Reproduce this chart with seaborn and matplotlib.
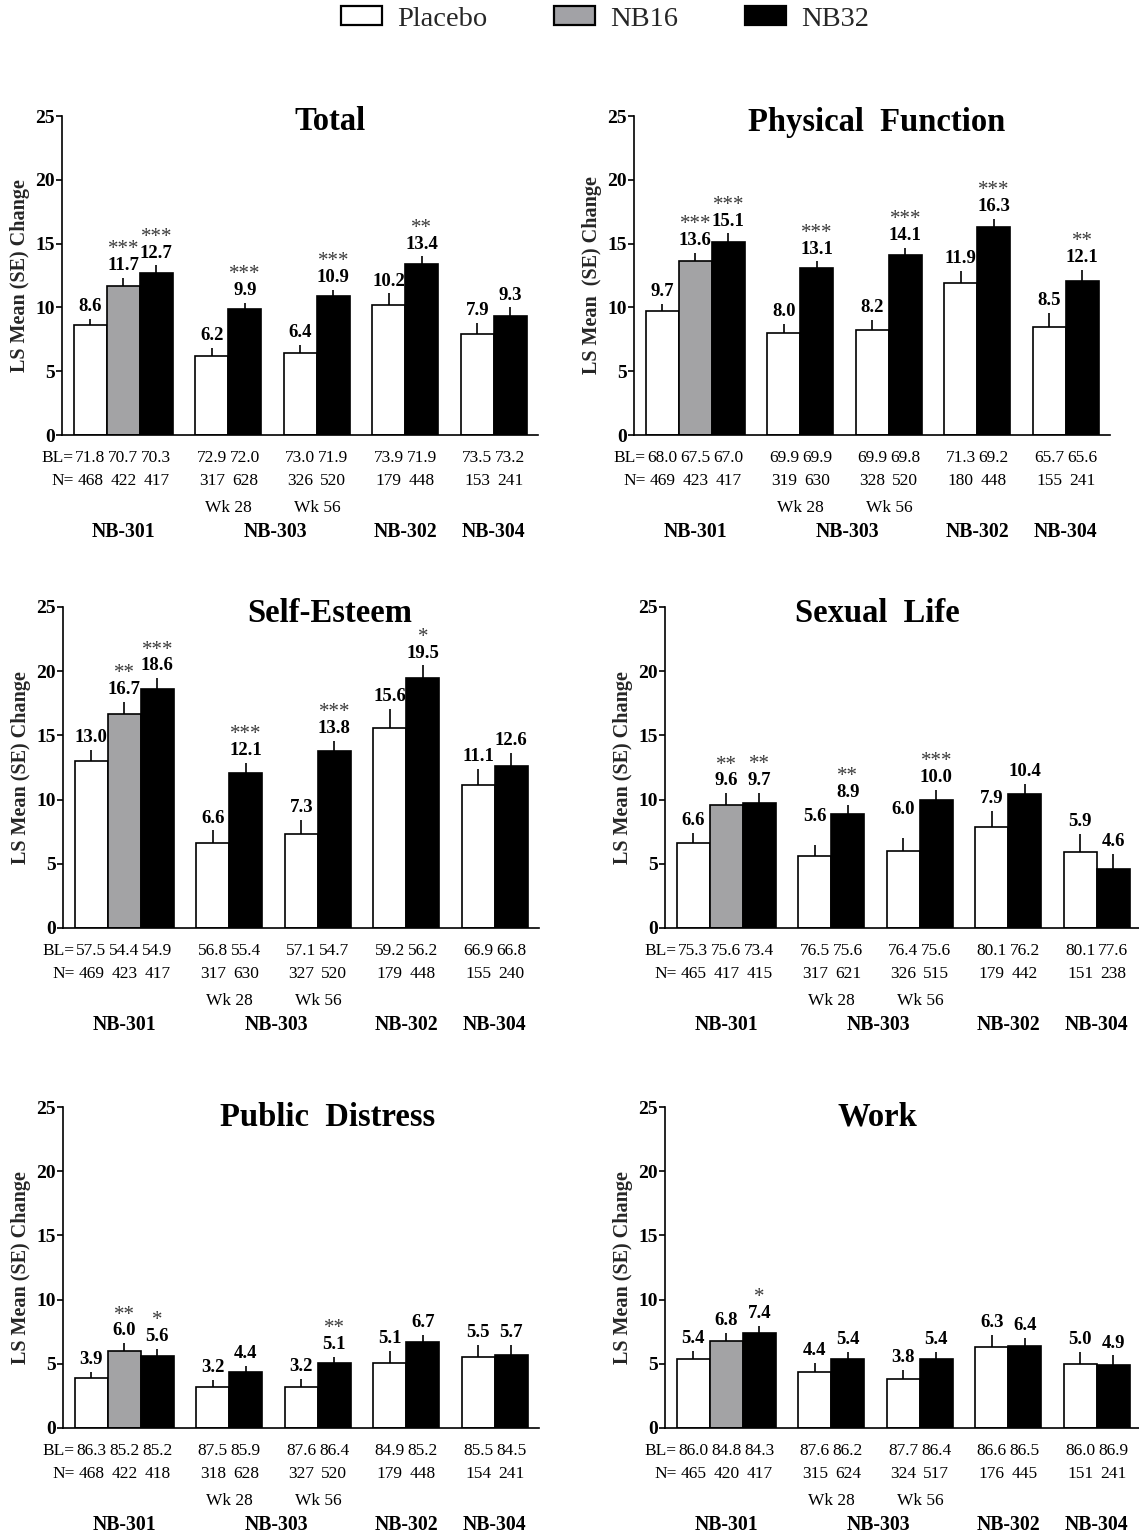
import numpy as np
import pandas as pd
import matplotlib
matplotlib.use("Agg")
import matplotlib.pyplot as plt
import seaborn as sns
from matplotlib.patches import Patch

sns.set_theme(style="ticks")
plt.rcParams['font.family'] = ['Liberation Serif', 'DejaVu Serif']

# ---------------- data ----------------
treatments = ["Placebo", "NB16", "NB32"]
slot_treatment = ["Placebo", "NB16", "NB32", "Placebo", "NB32", "Placebo", "NB32",
                  "Placebo", "NB32", "Placebo", "NB32"]
group_sizes = [3, 2, 2, 2, 2]
studies = ["NB-301", "NB-303", "NB-302", "NB-304"]
weeks = ["Wk 28", "Wk 56"]

titles = ["Total", "Physical  Function", "Self-Esteem", "Sexual  Life",
          "Public  Distress", "Work"]
ylabels = ["LS Mean (SE) Change", "LS Mean  (SE) Change", "LS Mean (SE) Change",
           "LS Mean (SE) Change", "LS Mean (SE) Change", "LS Mean (SE) Change"]

total_mean = [8.6, 11.7, 12.7, 6.2, 9.9, 6.4, 10.9, 10.2, 13.4, 7.9, 9.3]
total_se = [0.5, 0.6, 0.6, 0.6, 0.45, 0.65, 0.5, 0.9, 0.6, 0.9, 0.7]
total_sig = ["", "***", "***", "", "***", "", "***", "", "**", "", ""]
total_bl = ["71.8", "70.7", "70.3", "72.9", "72.0", "73.0", "71.9", "73.9", "71.9", "73.5", "73.2"]
total_n = ["468", "422", "417", "317", "628", "326", "520", "179", "448", "153", "241"]

pf_mean = [9.7, 13.6, 15.1, 8.0, 13.1, 8.2, 14.1, 11.9, 16.3, 8.5, 12.1]
pf_se = [0.6, 0.7, 0.7, 0.7, 0.5, 0.8, 0.55, 0.95, 0.65, 1.1, 0.85]
pf_sig = ["", "***", "***", "", "***", "", "***", "", "***", "", "**"]
pf_bl = ["68.0", "67.5", "67.0", "69.9", "69.9", "69.9", "69.8", "71.3", "69.2", "65.7", "65.6"]
pf_n = ["469", "423", "417", "319", "630", "328", "520", "180", "448", "155", "241"]

se_mean = [13.0, 16.7, 18.6, 6.6, 12.1, 7.3, 13.8, 15.6, 19.5, 11.1, 12.6]
se_se = [0.85, 0.9, 0.85, 1.0, 0.75, 1.15, 0.8, 1.45, 0.95, 1.3, 1.05]
se_sig = ["", "**", "***", "", "***", "", "***", "", "*", "", ""]
se_bl = ["57.5", "54.4", "54.9", "56.8", "55.4", "57.1", "54.7", "59.2", "56.2", "66.9", "66.8"]
se_n = ["469", "423", "417", "317", "630", "327", "520", "179", "448", "155", "240"]

sl_mean = [6.6, 9.6, 9.7, 5.6, 8.9, 6.0, 10.0, 7.9, 10.4, 5.9, 4.6]
sl_se = [0.8, 0.9, 0.85, 0.9, 0.7, 1.0, 0.75, 1.2, 0.8, 1.45, 1.2]
sl_sig = ["", "**", "**", "", "**", "", "***", "", "", "", ""]
sl_bl = ["75.3", "75.6", "73.4", "76.5", "75.6", "76.4", "75.6", "80.1", "76.2", "80.1", "77.6"]
sl_n = ["465", "417", "415", "317", "621", "326", "515", "179", "442", "151", "238"]

pd_mean = [3.9, 6.0, 5.6, 3.2, 4.4, 3.2, 5.1, 5.1, 6.7, 5.5, 5.7]
pd_se = [0.5, 0.6, 0.55, 0.55, 0.45, 0.6, 0.45, 0.9, 0.55, 0.95, 0.75]
pd_sig = ["", "**", "*", "", "", "", "**", "", "", "", ""]
pd_bl = ["86.3", "85.2", "85.2", "87.5", "85.9", "87.6", "86.4", "84.9", "85.2", "85.5", "84.5"]
pd_n = ["468", "422", "418", "318", "628", "327", "520", "179", "448", "154", "241"]

wk_mean = [5.4, 6.8, 7.4, 4.4, 5.4, 3.8, 5.4, 6.3, 6.4, 5.0, 4.9]
wk_se = [0.6, 0.6, 0.55, 0.7, 0.5, 0.7, 0.5, 0.95, 0.6, 0.9, 0.75]
wk_sig = ["", "", "*", "", "", "", "", "", "", "", ""]
wk_bl = ["86.0", "84.8", "84.3", "87.6", "86.2", "87.7", "86.4", "86.6", "86.5", "86.0", "86.9"]
wk_n = ["465", "420", "417", "315", "624", "324", "517", "176", "445", "151", "241"]

means = [total_mean, pf_mean, se_mean, sl_mean, pd_mean, wk_mean]
ses = [total_se, pf_se, se_se, sl_se, pd_se, wk_se]
sigs = [total_sig, pf_sig, se_sig, sl_sig, pd_sig, wk_sig]
bls = [total_bl, pf_bl, se_bl, sl_bl, pd_bl, wk_bl]
ns = [total_n, pf_n, se_n, sl_n, pd_n, wk_n]

# ---------------- layout ----------------
palette = {"Placebo": "white", "NB16": "#a2a2a6", "NB32": "black"}
GAP = 0.68
centers, group_centers = [], []
x = 0.0
for size in group_sizes:
    start = x
    for k in range(size):
        centers.append(x + 0.5)
        x += 1
    group_centers.append((start + x) / 2)
    x += GAP
bar_end = x - GAP
XLIM = (-0.36, bar_end + 0.34)

W, H = 1139, 1535
fig = plt.figure(figsize=(W / 100, H / 100), dpi=100)

# axes rects in pixels: (left, top, bottom)
rects = [(62, 116, 435), (634, 116, 435), (63, 607, 928), (665, 607, 928),
         (63, 1107, 1428), (665, 1107, 1428)]
AXW = 476
title_pos = [(330, 122), (877, 122), (330, 614), (877, 614), (328, 1117), (877, 1117)]
label_lift = {(3, 3): 11, (3, 5): 12}
ROW_FS = 12.5

for i, (lx, ty, by) in enumerate(rects):
    ax = fig.add_axes([lx / W, 1 - by / H, AXW / W, (by - ty) / H])
    df = pd.DataFrame({"pos": centers, "value": means[i], "Treatment": slot_treatment})
    sns.barplot(data=df, x="pos", y="value", hue="Treatment", hue_order=treatments,
                palette=palette, native_scale=True, dodge=False, width=1.0,
                errorbar=None, edgecolor="black", linewidth=1.2, legend=False, ax=ax)
    ax.errorbar(centers, means[i], yerr=[np.zeros(len(centers)), ses[i]], fmt="none",
                ecolor="black", elinewidth=1.2, capsize=0)
    ax.set_xlim(*XLIM)
    ax.set_ylim(0, 25)
    ax.set_yticks(range(0, 26, 5))
    ax.set_xticks([])
    ax.set_xlabel("")
    ax.set_ylabel(ylabels[i], fontsize=14.5, fontweight="bold", labelpad=0)
    ax.yaxis.set_label_coords(-32 / AXW, 0.5)
    sns.despine(ax=ax)
    for s in ["left", "bottom"]:
        ax.spines[s].set_linewidth(1.2)
        ax.spines[s].set_color("black")
    ax.tick_params(axis="y", length=4, width=1.2, pad=1, labelsize=14, colors="black")
    for t in ax.get_yticklabels():
        t.set_fontweight("bold")
    ax.set_facecolor("white")

    for j, c in enumerate(centers):
        top = means[i][j] + ses[i][j]
        lift = label_lift.get((i, j), 0)
        ax.annotate(f"{means[i][j]:.1f}", (c, top), xytext=(0, 5.6 + lift),
                    textcoords="offset points", ha="center", va="baseline",
                    fontsize=13.5, fontweight="bold", color="black")
        if sigs[i][j]:
            ax.annotate(sigs[i][j], (c, top), xytext=(0, 17.0 + lift),
                        textcoords="offset points", ha="center", va="baseline",
                        fontsize=15, color="#3a3a3a")
        ax.annotate(bls[i][j], (c, 0), xycoords=("data", "axes fraction"),
                    xytext=(0, -16.6), textcoords="offset points", ha="center",
                    va="center", fontsize=ROW_FS, color="black")
        ax.annotate(ns[i][j], (c, 0), xycoords=("data", "axes fraction"),
                    xytext=(0, -33.1), textcoords="offset points", ha="center",
                    va="center", fontsize=ROW_FS, color="black")
    for txt, off in [("BL=", -16.6), ("N=", -33.1)]:
        ax.annotate(txt, (centers[0] - 0.5, 0), xycoords=("data", "axes fraction"),
                    xytext=(0, off), textcoords="offset points", ha="right",
                    va="center", fontsize=ROW_FS, color="black")
    for wlab, gc in zip(weeks, group_centers[1:3]):
        ax.annotate(wlab, (gc, 0), xycoords=("data", "axes fraction"),
                    xytext=(0, -52.6), textcoords="offset points", ha="center",
                    va="center", fontsize=ROW_FS, color="black")
    study_x = [group_centers[0], (group_centers[1] + group_centers[2]) / 2 + 0.1,
               group_centers[3], group_centers[4]]
    for stxt, sx in zip(studies, study_x):
        ax.annotate(stxt, (sx, 0), xycoords=("data", "axes fraction"),
                    xytext=(0, -69.8), textcoords="offset points", ha="center",
                    va="center", fontsize=14.2, fontweight="bold", color="black")
    tx, tyy = title_pos[i]
    fig.text(tx / W, 1 - tyy / H, titles[i], ha="center", va="center",
             fontsize=23.5, fontweight="bold", color="black")

handles = [Patch(facecolor=palette[t], edgecolor="black", linewidth=1.6) for t in treatments]
fig.legend(handles, treatments, loc="center", bbox_to_anchor=(605 / W, 1 - 19 / H),
           ncol=3, frameon=False, fontsize=20.5, handlelength=1.44, handleheight=0.63,
           handletextpad=0.53, columnspacing=2.35)

fig.savefig("out.png", dpi=100, facecolor="white")
